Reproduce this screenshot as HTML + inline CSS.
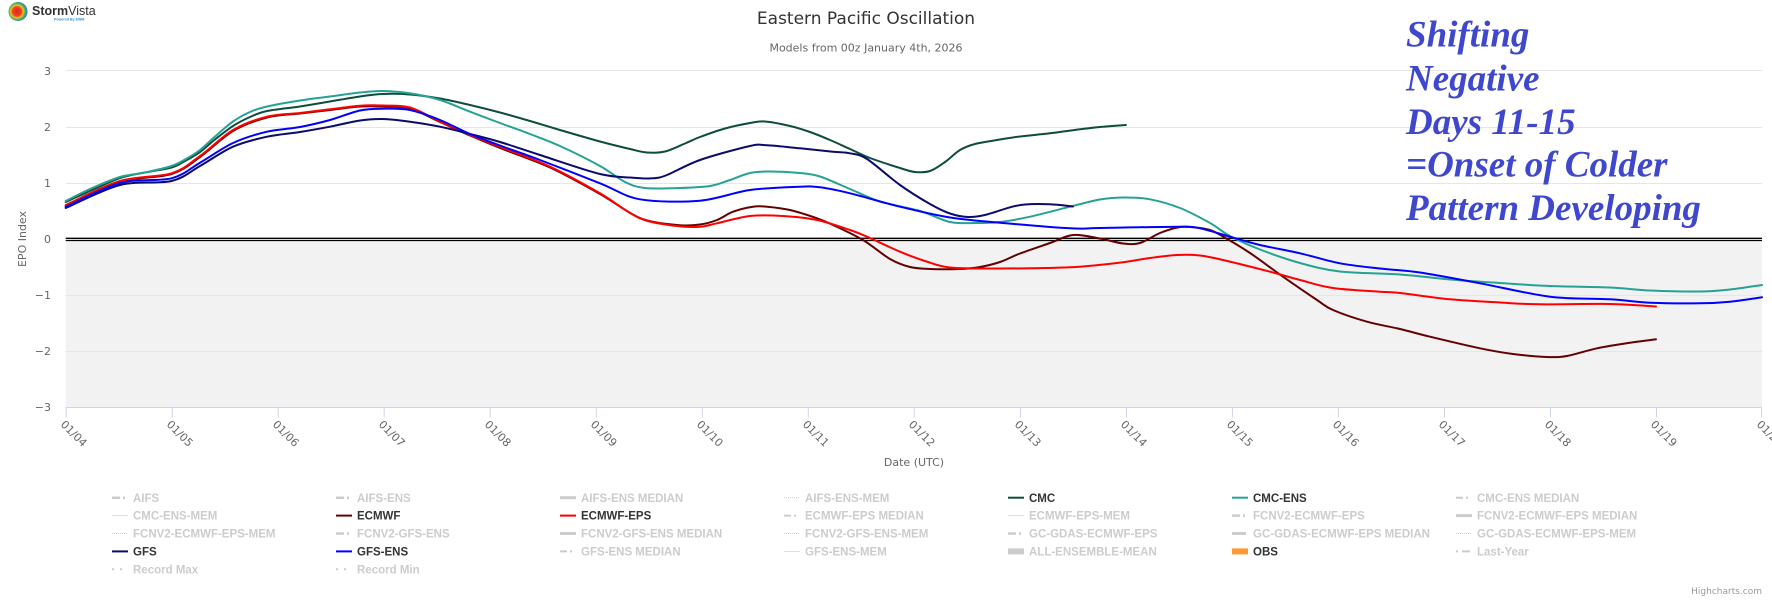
<!DOCTYPE html>
<html><head><meta charset="utf-8"><style>
html,body{margin:0;padding:0;background:#fff;}
svg{display:block;}
.ax{font-family:"DejaVu Sans","Liberation Sans",sans-serif;font-size:11px;fill:#666;}
.lg{font-family:"Liberation Sans",sans-serif;font-size:11.5px;font-weight:bold;fill:#ccc;}
.lg.on{fill:#333;}
.ann{font-family:"Liberation Serif",serif;font-weight:bold;font-style:italic;font-size:37px;fill:#3f48cc;}
</style></head><body>
<svg id="chart" width="1772" height="600" viewBox="0 0 1772 600" xmlns="http://www.w3.org/2000/svg">
<defs>
<radialGradient id="lg1" cx="45%" cy="50%" r="55%">
<stop offset="0" stop-color="#e8202a"/><stop offset="0.45" stop-color="#f04a20"/><stop offset="0.6" stop-color="#f5c31c"/><stop offset="0.75" stop-color="#5cb85c"/><stop offset="1" stop-color="#1e6fd0"/>
</radialGradient>
</defs>
<rect width="1772" height="600" fill="#fff"/>
<!-- logo -->
<circle cx="18" cy="11.5" r="9.5" fill="url(#lg1)"/>
<text x="32" y="15" font-family="Liberation Sans,sans-serif" font-size="12.5" font-weight="bold" fill="#333">Storm<tspan font-weight="normal">Vista</tspan></text>
<text x="54" y="20.5" font-family="Liberation Sans,sans-serif" font-size="3.6" font-weight="bold" fill="#2a8fe0">Powered By EWM</text>
<!-- titles -->
<text x="866" y="24" text-anchor="middle" font-family="DejaVu Sans,Liberation Sans,sans-serif" font-size="17" fill="#333">Eastern Pacific Oscillation</text>
<text x="866" y="51.5" text-anchor="middle" font-family="DejaVu Sans,Liberation Sans,sans-serif" font-size="11" fill="#666">Models from 00z January 4th, 2026</text>
<!-- plot band -->
<rect x="65.7" y="239.3" width="1696.3" height="168.2" fill="#f2f2f2"/>
<!-- gridlines -->
<g stroke="#e6e6e6" stroke-width="1">
<line x1="65.7" y1="70.5" x2="1762" y2="70.5"/>
<line x1="65.7" y1="127.5" x2="1762" y2="127.5"/>
<line x1="65.7" y1="183.5" x2="1762" y2="183.5"/>
<line x1="65.7" y1="295.5" x2="1762" y2="295.5"/>
<line x1="65.7" y1="351.5" x2="1762" y2="351.5"/>
</g>
<line x1="65.7" y1="407.5" x2="1762" y2="407.5" stroke="#ccd6eb" stroke-width="1"/>
<!-- x ticks -->
<g stroke="#ccd6eb" stroke-width="1">
<line x1="66.2" y1="407.5" x2="66.2" y2="417.5"/>
<line x1="172.2" y1="407.5" x2="172.2" y2="417.5"/>
<line x1="278.2" y1="407.5" x2="278.2" y2="417.5"/>
<line x1="384.2" y1="407.5" x2="384.2" y2="417.5"/>
<line x1="490.2" y1="407.5" x2="490.2" y2="417.5"/>
<line x1="596.3" y1="407.5" x2="596.3" y2="417.5"/>
<line x1="702.3" y1="407.5" x2="702.3" y2="417.5"/>
<line x1="808.3" y1="407.5" x2="808.3" y2="417.5"/>
<line x1="914.3" y1="407.5" x2="914.3" y2="417.5"/>
<line x1="1020.4" y1="407.5" x2="1020.4" y2="417.5"/>
<line x1="1126.4" y1="407.5" x2="1126.4" y2="417.5"/>
<line x1="1232.4" y1="407.5" x2="1232.4" y2="417.5"/>
<line x1="1338.4" y1="407.5" x2="1338.4" y2="417.5"/>
<line x1="1444.5" y1="407.5" x2="1444.5" y2="417.5"/>
<line x1="1550.5" y1="407.5" x2="1550.5" y2="417.5"/>
<line x1="1656.5" y1="407.5" x2="1656.5" y2="417.5"/>
<line x1="1761.5" y1="407.5" x2="1761.5" y2="417.5"/>
</g>
<!-- x labels -->
<g class="ax">
<text transform="translate(60,425) rotate(45)">01/04</text>
<text transform="translate(166,425) rotate(45)">01/05</text>
<text transform="translate(272,425) rotate(45)">01/06</text>
<text transform="translate(378,425) rotate(45)">01/07</text>
<text transform="translate(484,425) rotate(45)">01/08</text>
<text transform="translate(590,425) rotate(45)">01/09</text>
<text transform="translate(696,425) rotate(45)">01/10</text>
<text transform="translate(802,425) rotate(45)">01/11</text>
<text transform="translate(908,425) rotate(45)">01/12</text>
<text transform="translate(1014,425) rotate(45)">01/13</text>
<text transform="translate(1120,425) rotate(45)">01/14</text>
<text transform="translate(1226,425) rotate(45)">01/15</text>
<text transform="translate(1332,425) rotate(45)">01/16</text>
<text transform="translate(1438,425) rotate(45)">01/17</text>
<text transform="translate(1544,425) rotate(45)">01/18</text>
<text transform="translate(1650,425) rotate(45)">01/19</text>
<text transform="translate(1756,425) rotate(45)">01/20</text>
</g>
<!-- y labels -->
<g class="ax" text-anchor="end">
<text x="51" y="75">3</text>
<text x="51" y="131">2</text>
<text x="51" y="187">1</text>
<text x="51" y="243">0</text>
<text x="51" y="299">−1</text>
<text x="51" y="355">−2</text>
<text x="51" y="411">−3</text>
</g>
<text class="ax" transform="translate(26,239) rotate(-90)" text-anchor="middle" font-size="11.5">EPO Index</text>
<text class="ax" x="914" y="466" text-anchor="middle" font-size="11.5">Date (UTC)</text>
<!-- zero plot line -->
<line x1="65.7" y1="238.3" x2="1762" y2="238.3" stroke="#000" stroke-width="1.3"/>
<line x1="65.7" y1="240.5" x2="1762" y2="240.5" stroke="#000" stroke-width="1.3"/>
<!-- series -->
<g id="series" fill="none" stroke-width="2" stroke-linejoin="round" stroke-linecap="round">
<polyline stroke="#0e4d3c" points="65.7,202 90,191 120,178 145,172.5 171.5,167.5 185,161 200,152 215,139.5 233,126 250,117 267,111 300,106.5 330,101.5 360,96.5 383,94 410,94.5 440,98.5 470,105 500,112.5 530,121 560,130 600,141.5 630,149 647,152.5 665,151.5 685,143.5 700,137 725,128.5 750,123 765,121.5 790,126 810,132 830,140 850,149 870,158 900,168 915,172 930,171 945,162 960,150 975,144 1000,139.5 1020,136.5 1050,133.3 1080,129.3 1100,127 1125.9,125"/>
<polyline stroke="#25a293" points="65.7,201 90,189 120,177 145,172.5 171.5,166 185,159.5 200,150 215,136.5 233,121.5 250,112 267,106.5 300,100.5 330,96.5 360,92.5 383,91 410,93.3 440,100 470,111.7 500,123 530,134 560,146 600,166 625,182 645,188 680,188 710,186 730,180 750,173 770,171.5 800,173 820,176.5 850,189 880,201.5 920,211 950,222 975,223 1000,222 1030,216.7 1070,206.7 1100,199.5 1125,197.5 1150,199.3 1180,208 1210,223 1230,236 1260,249.5 1300,263 1340,271.5 1400,274.5 1450,279.5 1500,283 1550,286 1610,287.5 1650,290.5 1700,291.5 1730,289.5 1762,285"/>
<polyline stroke="#650000" points="65.7,206 120,182 171.5,174 200,157 233,131 267,117.5 300,113.5 330,110 360,106.5 383,106.5 410,108.5 440,122 470,135.5 500,148 550,167.5 600,194 640,218 677,225 700,224.5 717,220 733,211.7 753,206.7 767,206.7 790,210 817,218.3 833,225 863,240 890,259 910,267 930,269 960,269 980,267 1000,262 1020,253.5 1050,243 1073,235 1100,238.5 1123,243.5 1140,243 1160,233 1180,227 1195,227.5 1210,230 1223,236.5 1250,253 1283,276.7 1317,300 1333,310 1367,321.7 1400,329 1430,336.7 1480,348.3 1513,354 1547,357 1567,356 1597,348.3 1630,342.7 1656,339.3"/>
<polyline stroke="#ff0000" points="65.7,205 120,181 171.5,173.3 200,156 233,130 267,116.7 300,113 330,109.3 360,105.7 383,105.5 410,107.5 440,121.5 470,135 500,147 550,166.7 600,193.3 640,218.3 677,226 700,226.7 717,223.3 750,216 783,216 817,220 850,230 867,236.7 900,251.7 925,261 950,267.5 1000,268.5 1070,267.3 1117,263 1150,258 1177,255 1200,255.5 1223,260 1270,271.7 1300,280 1333,288 1380,291.7 1400,293 1450,299.3 1500,302.5 1540,304.3 1610,304 1656,306.5"/>
<polyline stroke="#0b0b6b" points="65.7,208 120,185 171.5,181 200,166 233,146.7 267,136.7 300,132 330,126.7 360,120.5 383,119 410,121.7 440,126.7 470,134 500,142 540,155 600,174 633,177.7 653,178.3 667,175 700,160 750,146 767,145.3 800,148.3 833,151.7 850,153.3 867,159 900,185 930,204 950,213.5 968,217 985,215 1010,207.3 1025,204.5 1050,204.3 1073,206.5"/>
<polyline stroke="#0000ff" points="65.7,207 120,183 171.5,178.3 200,162.7 233,143 267,131.7 300,127 330,120 360,110.5 383,108.7 410,110 440,120 470,134 500,145.5 540,160 600,183.3 640,199.3 700,200.7 750,190 800,186.7 820,187.3 850,193.3 900,206.7 950,217.5 1000,222.7 1070,228.3 1100,228 1180,226.7 1200,228.3 1230,236.7 1260,245 1300,253.3 1340,263.3 1380,268.5 1420,272.5 1480,283.3 1550,296.7 1610,299.3 1650,302.7 1700,303.3 1730,301.7 1762,297.3"/>
</g>
<!-- annotation -->
<g class="ann">
<text x="1406" y="46.7">Shifting</text>
<text x="1406" y="90.7">Negative</text>
<text x="1406" y="134">Days 11-15</text>
<text x="1406" y="176.7">=Onset of Colder</text>
<text x="1406" y="220">Pattern Developing</text>
</g>
<!-- legend symbols -->
<g fill="none" stroke-linecap="butt">
<line x1="112" y1="497.7" x2="128" y2="497.7" stroke="#ccc" stroke-width="2.5" stroke-dasharray="8,3,2,3"/>
<line x1="336" y1="497.7" x2="352" y2="497.7" stroke="#ccc" stroke-width="2.5" stroke-dasharray="8,3,2,3"/>
<line x1="560" y1="497.7" x2="576" y2="497.7" stroke="#ccc" stroke-width="3"/>
<line x1="784" y1="497.7" x2="800" y2="497.7" stroke="#ccc" stroke-width="1" stroke-dasharray="1,1"/>
<line x1="1008" y1="497.7" x2="1024" y2="497.7" stroke="#0e4d3c" stroke-width="2"/>
<line x1="1232" y1="497.7" x2="1248" y2="497.7" stroke="#25a293" stroke-width="2"/>
<line x1="1456" y1="497.7" x2="1472" y2="497.7" stroke="#ccc" stroke-width="2" stroke-dasharray="7,3,2,4"/>
<line x1="112" y1="515.6" x2="128" y2="515.6" stroke="#ddd" stroke-width="1"/>
<line x1="336" y1="515.6" x2="352" y2="515.6" stroke="#650000" stroke-width="2"/>
<line x1="560" y1="515.6" x2="576" y2="515.6" stroke="#ff0000" stroke-width="2"/>
<line x1="784" y1="515.6" x2="800" y2="515.6" stroke="#ccc" stroke-width="2" stroke-dasharray="7,3,2,4"/>
<line x1="1008" y1="515.6" x2="1024" y2="515.6" stroke="#ddd" stroke-width="1"/>
<line x1="1232" y1="515.6" x2="1248" y2="515.6" stroke="#ccc" stroke-width="2.5" stroke-dasharray="8,3,2,3"/>
<line x1="1456" y1="515.6" x2="1472" y2="515.6" stroke="#ccc" stroke-width="3"/>
<line x1="112" y1="533.5" x2="128" y2="533.5" stroke="#ccc" stroke-width="1" stroke-dasharray="1,1"/>
<line x1="336" y1="533.5" x2="352" y2="533.5" stroke="#ccc" stroke-width="2.5" stroke-dasharray="8,3,2,3"/>
<line x1="560" y1="533.5" x2="576" y2="533.5" stroke="#ccc" stroke-width="3"/>
<line x1="784" y1="533.5" x2="800" y2="533.5" stroke="#ccc" stroke-width="1" stroke-dasharray="1,1"/>
<line x1="1008" y1="533.5" x2="1024" y2="533.5" stroke="#ccc" stroke-width="2.5" stroke-dasharray="8,3,2,3"/>
<line x1="1232" y1="533.5" x2="1246" y2="533.5" stroke="#ccc" stroke-width="3"/>
<line x1="1456" y1="533.5" x2="1472" y2="533.5" stroke="#ccc" stroke-width="1" stroke-dasharray="1,1"/>
<line x1="112" y1="551.4" x2="128" y2="551.4" stroke="#0b0b6b" stroke-width="2"/>
<line x1="336" y1="551.4" x2="352" y2="551.4" stroke="#0000ff" stroke-width="2"/>
<line x1="560" y1="551.4" x2="576" y2="551.4" stroke="#ccc" stroke-width="2" stroke-dasharray="7,3,2,4"/>
<line x1="784" y1="551.4" x2="800" y2="551.4" stroke="#ddd" stroke-width="1"/>
<line x1="1008" y1="551.4" x2="1024" y2="551.4" stroke="#ccc" stroke-width="6"/>
<line x1="1232" y1="551.4" x2="1248" y2="551.4" stroke="#ff9933" stroke-width="6"/>
<line x1="1456" y1="551.4" x2="1472" y2="551.4" stroke="#ccc" stroke-width="2" stroke-dasharray="2,4,8,2"/>
<line x1="112" y1="569.3" x2="128" y2="569.3" stroke="#ccc" stroke-width="2" stroke-dasharray="2,6"/>
<line x1="336" y1="569.3" x2="352" y2="569.3" stroke="#ccc" stroke-width="2" stroke-dasharray="2,6"/>
</g>
<!-- legend texts -->
<g class="lg">
<text x="133" y="501.8">AIFS</text>
<text x="357" y="501.8">AIFS-ENS</text>
<text x="581" y="501.8">AIFS-ENS MEDIAN</text>
<text x="805" y="501.8">AIFS-ENS-MEM</text>
<text class="lg on" x="1029" y="501.8">CMC</text>
<text class="lg on" x="1253" y="501.8">CMC-ENS</text>
<text x="1477" y="501.8">CMC-ENS MEDIAN</text>

<text x="133" y="519.7">CMC-ENS-MEM</text>
<text class="lg on" x="357" y="519.7">ECMWF</text>
<text class="lg on" x="581" y="519.7">ECMWF-EPS</text>
<text x="805" y="519.7">ECMWF-EPS MEDIAN</text>
<text x="1029" y="519.7">ECMWF-EPS-MEM</text>
<text x="1253" y="519.7">FCNV2-ECMWF-EPS</text>
<text x="1477" y="519.7">FCNV2-ECMWF-EPS MEDIAN</text>

<text x="133" y="537.6">FCNV2-ECMWF-EPS-MEM</text>
<text x="357" y="537.6">FCNV2-GFS-ENS</text>
<text x="581" y="537.6">FCNV2-GFS-ENS MEDIAN</text>
<text x="805" y="537.6">FCNV2-GFS-ENS-MEM</text>
<text x="1029" y="537.6">GC-GDAS-ECMWF-EPS</text>
<text x="1253" y="537.6">GC-GDAS-ECMWF-EPS MEDIAN</text>
<text x="1477" y="537.6">GC-GDAS-ECMWF-EPS-MEM</text>

<text class="lg on" x="133" y="555.5">GFS</text>
<text class="lg on" x="357" y="555.5">GFS-ENS</text>
<text x="581" y="555.5">GFS-ENS MEDIAN</text>
<text x="805" y="555.5">GFS-ENS-MEM</text>
<text x="1029" y="555.5">ALL-ENSEMBLE-MEAN</text>
<text class="lg on" x="1253" y="555.5">OBS</text>
<text x="1477" y="555.5">Last-Year</text>

<text x="133" y="573.4">Record Max</text>
<text x="357" y="573.4">Record Min</text>
</g>
<text x="1762" y="594" text-anchor="end" font-family="DejaVu Sans,Liberation Sans,sans-serif" font-size="9" fill="#999">Highcharts.com</text>
</svg>
<script>
(function(){
  var NS="http://www.w3.org/2000/svg";
  var g=document.getElementById("series");
  if(!g) return;
  var pls=g.querySelectorAll("polyline");
  for(var k=0;k<pls.length;k++){
    var pl=pls[k];
    var raw=pl.getAttribute("points").trim().split(/\s+/);
    var p=[];
    for(var i=0;i<raw.length;i++){var c=raw[i].split(",");p.push([parseFloat(c[0]),parseFloat(c[1])]);}
    var d="M"+p[0][0]+","+p[0][1];
    for(var i=0;i<p.length-1;i++){
      var p0=p[i>0?i-1:i],p1=p[i],p2=p[i+1],p3=p[i+2<p.length?i+2:i+1];
      var t=0.16;
      var c1x=p1[0]+(p2[0]-p0[0])*t, c1y=p1[1]+(p2[1]-p0[1])*t;
      var c2x=p2[0]-(p3[0]-p1[0])*t, c2y=p2[1]-(p3[1]-p1[1])*t;
      d+=" C"+c1x.toFixed(2)+","+c1y.toFixed(2)+" "+c2x.toFixed(2)+","+c2y.toFixed(2)+" "+p2[0]+","+p2[1];
    }
    var path=document.createElementNS(NS,"path");
    path.setAttribute("d",d);
    path.setAttribute("stroke",pl.getAttribute("stroke"));
    g.replaceChild(path,pl);
  }
})();
</script>
</body></html>
